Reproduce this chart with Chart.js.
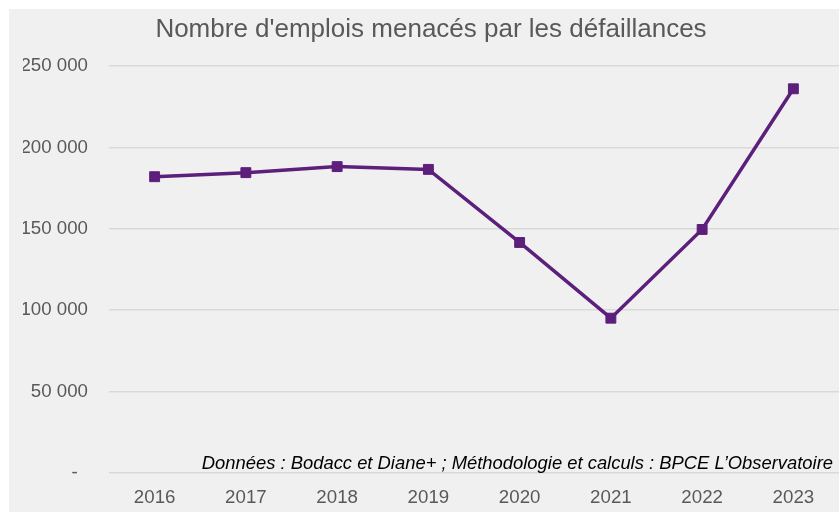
<!DOCTYPE html>
<html>
<head>
<meta charset="utf-8">
<script src="https://cdn.jsdelivr.net/npm/chart.js"></script>
<style>
  body { margin: 0; background: #ffffff; }
  #box { position: absolute; left: 9px; top: 9px; width: 830px; height: 503px; background: #f0f0f0; }
</style>
</head>
<body>
<div id="box"><canvas id="emplois" width="830" height="503"></canvas></div>
<script>
//---x-axis
var annees = [ '2016', '2017', '2018', '2019', '2020', '2021', '2022', '2023' ]

//---data
var emploisMenaces = [ 182000, 184500, 188200, 186500, 141600, 95100, 149600, 236000 ]

//---y-axis
var yMax = 250000
var yStep = 50000

var titre = "Nombre d'emplois menacés par les défaillances"
var source = 'Données : Bodacc et Diane+ ; Méthodologie et calculs : BPCE L’Observatoire'

var gris = '#595959'
var violet = '#5c1f7c'
var police = '"Liberation Sans", Arial, sans-serif'

function formatMilliers(v) {
  if (v === 0) return '-  ';
  return String(v).replace(/\B(?=(\d{3})+(?!\d))/g, ' ');
}

// source text drawn inside the plot, bottom right
var sourcePlugin = {
  id: 'source',
  afterDraw: function (chart) {
    var ctx = chart.ctx;
    ctx.save();
    ctx.font = 'italic 18.4px ' + police;
    ctx.fillStyle = '#000000';
    ctx.textAlign = 'right';
    ctx.textBaseline = 'middle';
    ctx.fillText(source, chart.chartArea.right - 6, chart.chartArea.bottom - 9.5);
    ctx.restore();
  }
};

var ctx = document.getElementById('emplois');

var data = {
  labels: annees,
  datasets: [{
    data: emploisMenaces,
    borderColor: violet,
    backgroundColor: violet,
    borderWidth: 3.5,
    lineTension: 0,
    pointStyle: 'rect',
    pointRadius: 7,
    pointBorderWidth: 1,
    pointBackgroundColor: violet,
    pointBorderColor: violet
  }]
};

var options = {
  responsive: false,
  animation: false,
  layout: { autoPadding: false, padding: { left: 14, right: 0, top: 0, bottom: 0 } },
  plugins: {
    legend: { display: false },
    tooltip: { enabled: false },
    title: {
      display: true,
      text: titre,
      color: gris,
      font: { family: police, size: 26, weight: 'normal' },
      padding: { top: 5, bottom: 20.8 }
    }
  },
  scales: {
    x: {
      offset: true,
      grid: { display: false, drawTicks: false },
      border: { display: false },
      ticks: {
        color: gris,
        padding: 14,
        font: { family: police, size: 18.7 }
      },
      afterFit: function (scale) { scale.height = 39; }
    },
    y: {
      min: 0,
      max: yMax,
      grid: { color: '#d9d9d9', lineWidth: 1.5, drawTicks: false },
      border: { display: false },
      ticks: {
        stepSize: yStep,
        color: gris,
        padding: 21,
        font: { family: police, size: 18.7 },
        callback: function (v) { return formatMilliers(v); }
      },
      afterFit: function (scale) { scale.width = 86; }
    }
  }
};

var chartEmplois = new Chart(ctx, {
  type: 'line',
  data: data,
  options: options,
  plugins: [sourcePlugin]
});
</script>
</body>
</html>
